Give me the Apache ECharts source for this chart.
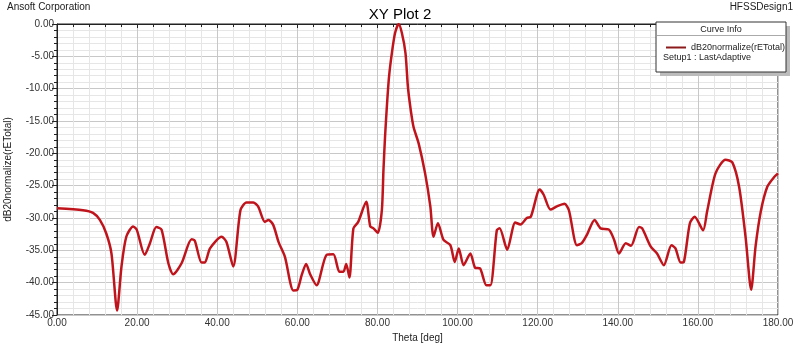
<!DOCTYPE html>
<html>
<head>
<meta charset="utf-8">
<script src="https://cdn.jsdelivr.net/npm/echarts@6/dist/echarts.min.js"></script>
<style>
html,body{margin:0;padding:0;background:#fff;}
#main{width:800px;height:345px;}
</style>
</head>
<body>
<div id="main"></div>
<script>
// theta (deg) and level (dB)
var theta = [0, 6.5, 9, 10.7, 12.3, 13.6, 15, 16.1, 17.3, 19, 19.9, 21.9, 23.2, 24.8, 26.1, 27.8, 29, 31.1, 33.6, 34.4,
	36.1, 36.9, 38.2, 41.1, 42.3, 44, 45.8, 47.3, 49, 50.2, 51.9, 52.8, 54, 55.3, 56.9, 59, 60, 61.1, 62.2, 63.2,
	64.8, 67.3, 69, 70.5, 71.5, 72.2, 73, 74, 75.2, 77.2, 78.2, 79, 80.1, 81.1, 81.5, 81.9, 82.4, 82.9, 83.6, 84.4,
	85.3, 86.1, 87, 87.6, 88.2, 89, 90.3, 91.9, 93.2, 94, 95.1, 96.5, 98.2, 99.3, 100.3, 101.5, 103.2, 104.4, 105.6, 107.2,
	108.2, 109.8, 110.5, 112.4, 114.4, 115.7, 117.3, 118.3, 120.5, 121.5, 123.2, 124.8, 126.7, 127.8, 129.8, 131, 132.3, 134.2, 135.7, 137.8,
	139.1, 140.3, 142, 143.3, 145.3, 146.1, 148.2, 149.8, 151.5, 153.4, 154.4, 155.7, 156.5, 158, 159.2, 161.3, 162.3, 164.4, 166.9, 168.6,
	170.3, 171.9, 173.3, 174.4, 175.7, 177.3, 179, 180];
var level = [-28.5, -28.8, -29.2, -30.3, -32.4, -35.5, -44.3, -37.5, -32.9, -31.3, -31.8, -35.7, -33.9, -31.4, -31.8, -37, -38.7, -37, -33.3, -33.5,
	-36.9, -36.9, -34.7, -32.9, -33.7, -37.5, -28.8, -27.6, -27.6, -28.2, -30.6, -30.3, -31.1, -33.7, -36, -41.2, -41.1, -38.8, -37.1, -38.7,
	-40.4, -35.7, -35.6, -38.3, -38.3, -37.1, -39.2, -31.6, -30.6, -27.5, -31.3, -31.6, -32.3, -28.8, -22.6, -17.4, -12.3, -8.1, -4.5, -1.4,
	0, -1.4, -4.5, -9.7, -12.8, -15.9, -18.5, -23.1, -28.2, -32.9, -30.8, -33.4, -34.2, -36.8, -34.7, -37.3, -35.5, -37.7, -37.8, -40.4,
	-40.4, -31.9, -31.6, -34.9, -30.7, -31, -30, -29.8, -25.6, -26.4, -28.7, -28.2, -27.8, -28.8, -34.2, -33.9, -32.6, -30.3, -31.6, -31.8,
	-33.4, -35.5, -33.9, -34.3, -31.4, -31.6, -34.4, -35.5, -37.3, -34.2, -34.7, -36.9, -36.8, -30.8, -29.8, -31.9, -29, -23.1, -21, -21.4,
	-25.2, -32.9, -41.1, -34.4, -29, -25.2, -23.7, -23.1];

var curveName = 'dB20normalize(rETotal)';
var lineColor = '#c0141c';
var fontName = 'Liberation Sans';

var pts = [];
for (var i = 0; i < theta.length; i++) {
	pts.push([theta[i], level[i]]);
}

var chart = echarts.init(document.getElementById('main'));
var option = {
	backgroundColor: '#fff',
	animation: false,
	textStyle: {fontFamily: fontName},
	title: {
		text: 'XY Plot 2',
		left: 'center',
		top: 2,
		textStyle: {fontSize: 15, fontWeight: 'normal', color: '#000', fontFamily: fontName}
	},
	grid: {
		left: 57, right: 22, top: 24, bottom: 30,
		outerBoundsMode: 'none',
		show: true, borderColor: '#222', borderWidth: 1, backgroundColor: 'transparent'
	},
	legend: {
		data: [curveName],
		left: 661,
		top: 38,
		itemWidth: 20,
		itemHeight: 8,
		itemGap: 4,
		icon: 'path://M0,0 L20,0 L20,2 L0,2 Z',
		textStyle: {fontSize: 9, color: '#222', fontFamily: fontName},
		z: 10
	},
	xAxis: {
		type: 'value',
		min: 0, max: 180, interval: 20,
		name: 'Theta [deg]',
		nameLocation: 'middle',
		nameGap: 12,
		nameTextStyle: {fontSize: 10, color: '#222'},
		axisLine: {lineStyle: {color: '#222'}},
		axisTick: {length: 4, lineStyle: {color: '#222'}},
		minorTick: {show: true, splitNumber: 5, length: 3, lineStyle: {color: '#222'}},
		axisLabel: {fontSize: 10, color: '#333', margin: 3, formatter: function (v) { return v.toFixed(2); }},
		splitLine: {lineStyle: {color: '#c8c8c8'}},
		minorSplitLine: {show: true, lineStyle: {color: '#e6e6e6'}}
	},
	yAxis: {
		type: 'value',
		min: -45, max: 0, interval: 5,
		name: 'dB20normalize(rETotal)',
		nameLocation: 'middle',
		nameGap: 44,
		nameTextStyle: {fontSize: 10, color: '#222'},
		axisLine: {show: true, lineStyle: {color: '#222'}},
		axisTick: {show: true, length: 5, lineStyle: {color: '#222'}},
		minorTick: {show: true, splitNumber: 5, length: 3, lineStyle: {color: '#222'}},
		axisLabel: {fontSize: 10, color: '#333', margin: 3, formatter: function (v) { return v.toFixed(2); }},
		splitLine: {lineStyle: {color: '#c8c8c8'}},
		minorSplitLine: {show: true, lineStyle: {color: '#e6e6e6'}}
	},
	graphic: [
		{type: 'text', left: 7, top: 2, style: {text: 'Ansoft Corporation', fontSize: 10, fill: '#222', fontFamily: fontName}},
		{type: 'text', right: 7, top: 2, style: {text: 'HFSSDesign1', fontSize: 10, fill: '#222', fontFamily: fontName}},
		{type: 'rect', shape: {x: 660, y: 26, width: 130, height: 50}, style: {fill: '#bbb'}, z: 5},
		{type: 'rect', shape: {x: 656, y: 22, width: 130, height: 50}, style: {fill: '#fff', stroke: '#333', lineWidth: 1}, z: 6},
		{type: 'line', shape: {x1: 657, y1: 35.5, x2: 785, y2: 35.5}, style: {stroke: '#aaa', lineWidth: 1}, z: 7},
		{type: 'text', x: 721, y: 25, style: {text: 'Curve Info', fontSize: 9, fill: '#222', align: 'center', fontFamily: fontName}, z: 7},
		{type: 'text', x: 663, y: 53, style: {text: 'Setup1 : LastAdaptive', fontSize: 9, fill: '#222', fontFamily: fontName}, z: 7}
	],
	series: [{
		name: curveName,
		type: 'line',
		data: pts,
		showSymbol: false,
		smooth: 0.25,
		lineStyle: {color: lineColor, width: 2.5},
		itemStyle: {color: '#8b1a1a'},
		z: 3
	}]
};
chart.setOption(option);
</script>
</body>
</html>
